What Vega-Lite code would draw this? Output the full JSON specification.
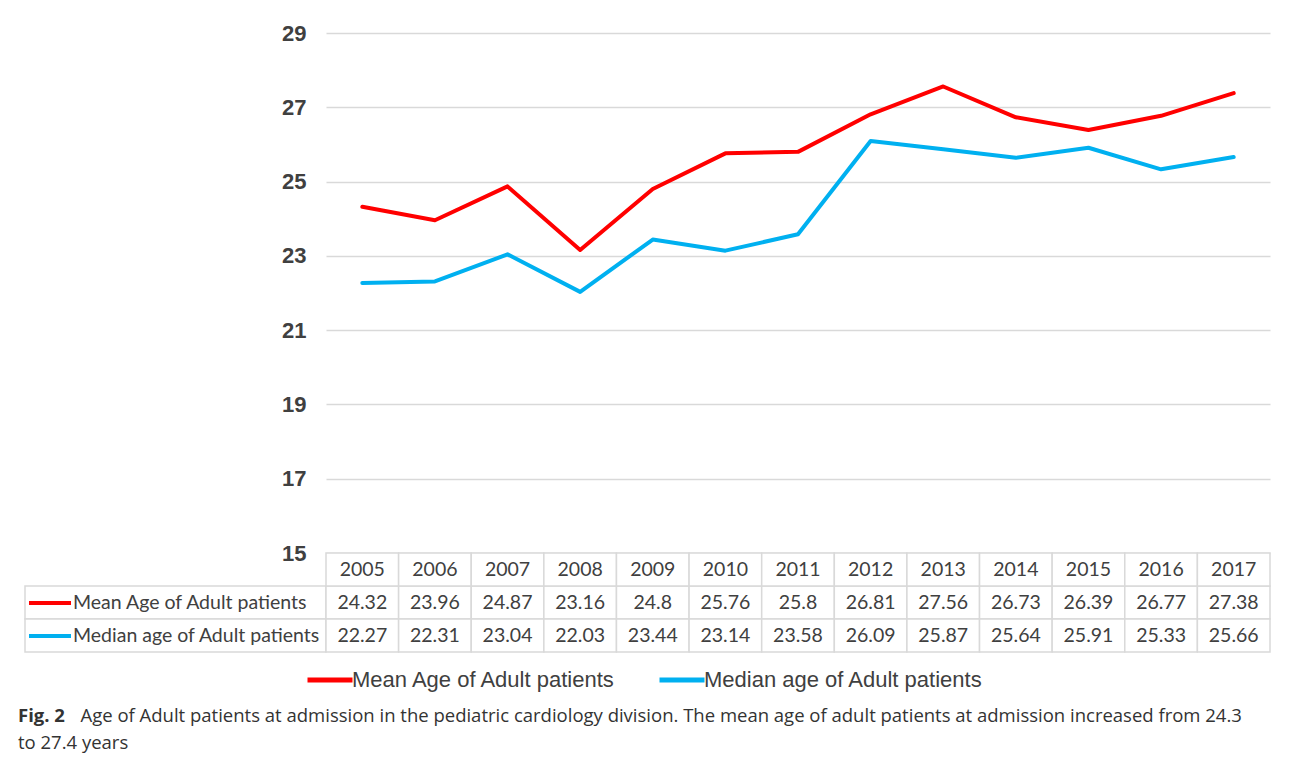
{
  "$schema": "https://vega.github.io/schema/vega-lite/v6.json",
  "padding": {"left": 18, "top": 22, "right": 4, "bottom": 4},
  "autosize": {"type": "pad"},
  "background": "white",
  "config": {
    "view": {"stroke": null},
    "font": "Liberation Sans"
  },
  "datasets": {
    "ages": [
      {"year": "2005", "series": "Mean Age of Adult patients", "value": 24.32},
      {"year": "2006", "series": "Mean Age of Adult patients", "value": 23.96},
      {"year": "2007", "series": "Mean Age of Adult patients", "value": 24.87},
      {"year": "2008", "series": "Mean Age of Adult patients", "value": 23.16},
      {"year": "2009", "series": "Mean Age of Adult patients", "value": 24.8},
      {"year": "2010", "series": "Mean Age of Adult patients", "value": 25.76},
      {"year": "2011", "series": "Mean Age of Adult patients", "value": 25.8},
      {"year": "2012", "series": "Mean Age of Adult patients", "value": 26.81},
      {"year": "2013", "series": "Mean Age of Adult patients", "value": 27.56},
      {"year": "2014", "series": "Mean Age of Adult patients", "value": 26.73},
      {"year": "2015", "series": "Mean Age of Adult patients", "value": 26.39},
      {"year": "2016", "series": "Mean Age of Adult patients", "value": 26.77},
      {"year": "2017", "series": "Mean Age of Adult patients", "value": 27.38},
      {"year": "2005", "series": "Median age of Adult patients", "value": 22.27},
      {"year": "2006", "series": "Median age of Adult patients", "value": 22.31},
      {"year": "2007", "series": "Median age of Adult patients", "value": 23.04},
      {"year": "2008", "series": "Median age of Adult patients", "value": 22.03},
      {"year": "2009", "series": "Median age of Adult patients", "value": 23.44},
      {"year": "2010", "series": "Median age of Adult patients", "value": 23.14},
      {"year": "2011", "series": "Median age of Adult patients", "value": 23.58},
      {"year": "2012", "series": "Median age of Adult patients", "value": 26.09},
      {"year": "2013", "series": "Median age of Adult patients", "value": 25.87},
      {"year": "2014", "series": "Median age of Adult patients", "value": 25.64},
      {"year": "2015", "series": "Median age of Adult patients", "value": 25.91},
      {"year": "2016", "series": "Median age of Adult patients", "value": 25.33},
      {"year": "2017", "series": "Median age of Adult patients", "value": 25.66}
    ]
  },
  "title": {
    "text": "Fig. 2",
    "subtitle": ["\u200b\u00a0\u00a0\u00a0\u00a0\u00a0\u00a0\u00a0\u00a0\u00a0\u00a0\u00a0\u00a0\u00a0Age of Adult patients at admission in the pediatric cardiology division. The mean age of adult patients at admission increased from 24.3", "to 27.4 years"],
    "orient": "bottom",
    "anchor": "start",
    "frame": "group",
    "dx": -7,
    "offset": 16,
    "font": "Open Sans",
    "fontSize": 18.5,
    "fontWeight": "bold",
    "color": "#333333",
    "lineHeight": 27,
    "subtitleFont": "Open Sans",
    "subtitleFontSize": 18.5,
    "subtitleColor": "#333333",
    "subtitleLineHeight": 27,
    "subtitlePadding": -18.5
  },
  "columns": 2,
  "spacing": 0,
  "bounds": "flush",
  "concat": [
    {
      "width": 301,
      "height": 520,
      "data": {"values": [{}]},
      "mark": {"type": "text", "text": ""}
    },
    {
      "width": 944,
      "height": 520,
      "data": {"name": "ages"},
      "mark": {"type": "line", "strokeWidth": 4, "strokeCap": "round", "strokeJoin": "round"},
      "encoding": {
        "x": {"field": "year", "type": "ordinal", "axis": null, "sort": null},
        "y": {
          "field": "value",
          "type": "quantitative",
          "scale": {"domain": [15, 29], "nice": false, "zero": false},
          "axis": {
            "title": null,
            "values": [15, 17, 19, 21, 23, 25, 27, 29],
            "grid": true,
            "gridColor": "#d9d9d9",
            "gridWidth": 1.3,
            "domain": false,
            "ticks": false,
            "labelFontSize": 22,
            "labelFontWeight": "bold",
            "labelColor": "#404040",
            "labelPadding": 20
          }
        },
        "color": {
          "field": "series",
          "type": "nominal",
          "scale": {"range": ["#ff0000", "#00b0f0"]},
          "legend": {
            "title": null,
            "orient": "none",
            "direction": "horizontal",
            "legendX": 280,
            "legendY": 622,
            "symbolType": "stroke",
            "symbolSize": 2025,
            "symbolStrokeWidth": 5,
            "labelFont": "Liberation Sans",
            "labelFontSize": 22,
            "labelColor": "#404040",
            "labelOffset": -3,
            "columnPadding": 32,
            "labelLimit": 400
          }
        }
      }
    },
    {
      "width": 301,
      "height": 99,
      "data": {"name": "ages"},
      "transform": [{"filter": "datum.year === '2005'"}],
      "layer": [
        {
          "mark": {"type": "rect", "fill": "white", "stroke": "#d9d9d9", "strokeWidth": 1.5},
          "encoding": {
            "y": {"field": "series", "type": "nominal", "axis": null,
                  "scale": {"domain": [" ", "Mean Age of Adult patients", "Median age of Adult patients"], "paddingInner": 0, "paddingOuter": 0}}
          }
        },
        {
          "mark": {"type": "point", "opacity": 0},
          "encoding": {
            "y": {"field": "series", "type": "nominal", "axis": null,
                  "scale": {"domain": [" ", "Mean Age of Adult patients", "Median age of Adult patients"], "paddingInner": 0, "paddingOuter": 0}},
            "stroke": {
              "field": "series",
              "type": "nominal",
              "scale": {"range": ["#ff0000", "#00b0f0"]},
              "legend": {
                "title": null,
                "orient": "none",
                "direction": "vertical",
                "legendX": 2,
                "legendY": 547,
                "symbolType": "stroke",
                "symbolSize": 1764,
                "symbolStrokeWidth": 4,
                "symbolOpacity": 1,
                "labelFont": "Lato",
                "labelFontSize": 19.5,
                "labelColor": "#404040",
                "labelOffset": 0,
                "rowPadding": -9,
                "labelLimit": 400
              }
            }
          }
        }
      ]
    },
    {
      "width": 944,
      "height": 99,
      "layer": [
        {
          "data": {"name": "ages"},
          "mark": {"type": "rect", "fill": "white", "stroke": "#d9d9d9", "strokeWidth": 1.5},
          "encoding": {
            "x": {"field": "year", "type": "ordinal", "axis": null, "scale": {"paddingInner": 0, "paddingOuter": 0}},
            "y": {"field": "series", "type": "nominal", "axis": null,
                  "scale": {"domain": [" ", "Mean Age of Adult patients", "Median age of Adult patients"], "paddingInner": 0, "paddingOuter": 0}}
          }
        },
        {
          "data": {"name": "ages"},
          "transform": [{"filter": "datum.series === 'Mean Age of Adult patients'"}],
          "mark": {"type": "rect", "fill": "white", "stroke": "#d9d9d9", "strokeWidth": 1.5},
          "encoding": {
            "x": {"field": "year", "type": "ordinal", "axis": null},
            "y": {"datum": " ", "type": "nominal"}
          }
        },
        {
          "data": {"name": "ages"},
          "mark": {"type": "text", "font": "Lato", "fontSize": 19.5, "color": "#404040"},
          "encoding": {
            "x": {"field": "year", "type": "ordinal", "axis": null},
            "y": {"field": "series", "type": "nominal"},
            "text": {"field": "value", "type": "quantitative"}
          }
        },
        {
          "data": {"name": "ages"},
          "transform": [{"filter": "datum.series === 'Mean Age of Adult patients'"}],
          "mark": {"type": "text", "font": "Lato", "fontSize": 19.5, "color": "#404040"},
          "encoding": {
            "x": {"field": "year", "type": "ordinal", "axis": null},
            "y": {"datum": " ", "type": "nominal"},
            "text": {"field": "year", "type": "nominal"}
          }
        }
      ]
    }
  ]
}
